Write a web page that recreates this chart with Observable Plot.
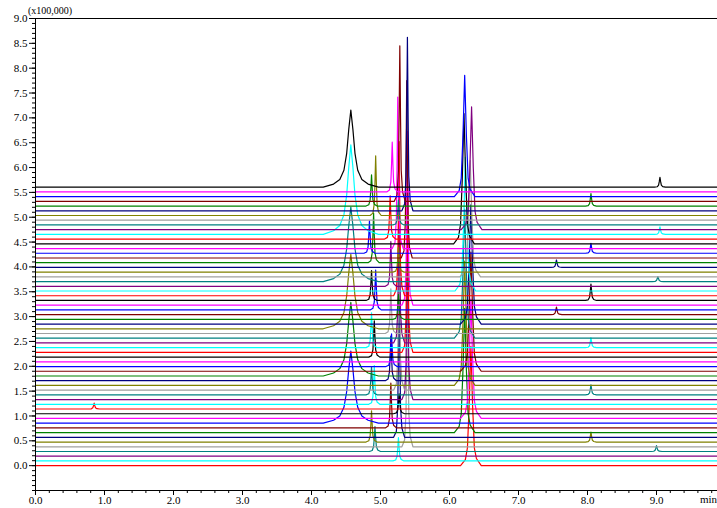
<!DOCTYPE html>
<html><head><meta charset="utf-8">
<script src="https://cdn.jsdelivr.net/npm/d3@7"></script>
<script src="https://cdn.jsdelivr.net/npm/@observablehq/plot@0.6"></script>
<style>body{margin:0;background:#fff}svg{display:block}</style>
</head><body><div id="chart"></div>
<script>
// ---- data (intensity in units of 100,000; time in min) ----
const traceCount = 60;
const traceStep = 0.095; // stacking offset between runs
const traceColors = ["#ff0000","#00ffff","#800080","#008080","#a0a0a0","#808000","#000080","#008000","#800000","#0000ff","#ff00ff","#000000"];

// peaks: [trace index, retention time, height]
const peaksA  = [[9,4.57,1.45],[19,4.57,1.48],[29,4.57,1.5],[39,4.57,1.5],[49,4.57,1.8],[59,4.57,1.55]];
const peaksB1 = [[5,4.87,0.63],[15,4.87,0.57],[25,4.87,0.7],[35,4.87,0.6],[45,4.84,0.65],[55,4.87,0.63]];
const peaksB2 = [[3,4.92,0.5],[13,4.91,0.78],[23,4.91,0.73],[33,4.93,0.8],[43,4.90,1.0],[53,4.93,1.2]];
const peaksC1 = [[8,5.15,0.9],[18,5.15,0.9],[28,5.15,0.9],[38,5.15,0.9],[48,5.14,0.87],[58,5.17,1.0]];
const peaksC2 = [[6,5.27,3.1],[16,5.27,3.1],[26,5.27,3.1],[36,5.27,3.1],[46,5.25,3.05],[56,5.28,3.13]];
const peaksC3 = [[4,5.39,3.5],[14,5.39,3.5],[24,5.39,3.5],[34,5.39,3.5],[44,5.38,3.57],[54,5.39,3.49]];
const peaksC4 = [[1,5.26,0.47],[11,5.27,0.4],[21,5.16,0.66],[31,5.26,0.5],[41,5.26,0.5],[51,5.26,0.5]];
const peaksD1 = [[7,6.22,2.5],[17,6.22,2.5],[27,6.22,2.6],[37,6.23,2.69],[47,6.21,2.62],[57,6.22,2.44]];
const peaksD2 = [[0,6.31,2.4],[10,6.31,2.4],[20,6.31,2.4],[30,6.31,2.4],[40,6.30,2.34],[50,6.32,2.47]];
const peaksE  = [[5,8.05,0.2],[15,8.05,0.2],[25,8.05,0.2],[35,8.05,0.33],[45,8.05,0.2],[55,8.05,0.25]];
const peaksF  = [[59,9.05,0.2],[49,9.05,0.15],[39,9.02,0.1],[3,9.0,0.12]];
const peaksMinor = [[42,7.55,0.15],[32,7.55,0.15],[12,0.85,0.12]];

const yMajorTicks = d3.range(0, 9.01, 0.5);
const yMinorTicks = d3.range(-0.5, 9.01, 0.1);
const xMajorTicks = d3.range(0, 9.01, 1);
const xMinorTicks = d3.range(0, 9.9, 0.2);

// ---- peak shape templates ----
const shapes = {
  broad:  {dx:[-0.4,-0.25,-0.16,-0.1,-0.06,-0.03,0,0.03,0.06,0.1,0.16,0.25,0.4], r:[0,0.04,0.1,0.22,0.44,0.75,1,0.75,0.44,0.22,0.1,0.04,0]},
  narrow: {dx:[-0.08,-0.04,-0.02,-0.01,0,0.01,0.02,0.04,0.08], r:[0,0.04,0.2,0.55,1,0.55,0.2,0.06,0]},
  medium: {dx:[-0.15,-0.08,-0.05,-0.025,0,0.025,0.05,0.08,0.15], r:[0,0.05,0.15,0.5,1,0.5,0.15,0.06,0]}
};
const groups = [
  [peaksA,"broad"],[peaksB1,"narrow"],[peaksB2,"narrow"],[peaksC1,"narrow"],[peaksC2,"narrow"],
  [peaksC3,"narrow"],[peaksC4,"narrow"],[peaksD1,"medium"],[peaksD2,"medium"],[peaksE,"narrow"],
  [peaksF,"narrow"],[peaksMinor,"narrow"]
];
const xMax = 9.884;
const perTrace = Array.from({length: traceCount}, () => []);
for (const [list, shape] of groups) for (const [i, t, h] of list) perTrace[i].push({t, h, s: shapes[shape]});
function shapeAt(s, d) {
  if (d <= s.dx[0] || d >= s.dx[s.dx.length - 1]) return 0;
  for (let k = 1; k < s.dx.length; k++) if (d <= s.dx[k]) {
    const f = (d - s.dx[k-1]) / (s.dx[k] - s.dx[k-1]);
    return s.r[k-1] + f * (s.r[k] - s.r[k-1]);
  }
  return 0;
}
const rows = [];
for (let i = 0; i < traceCount; i++) {
  const base = i * traceStep;
  const ts = new Set([0, xMax]);
  for (const p of perTrace[i]) for (const d of p.s.dx) ts.add(+(p.t + d).toFixed(4));
  for (const t of [...ts].sort((a, b) => a - b)) {
    let v = base;
    for (const p of perTrace[i]) v += p.h * shapeAt(p.s, t - p.t);
    rows.push({trace: i, t, v, color: traceColors[i % 12]});
  }
}

const serif = "'Liberation Serif', 'Times New Roman', serif";
const plot = Plot.plot({
  width: 717, height: 508,
  marginLeft: 35, marginRight: 0, marginTop: 18, marginBottom: 18,
  x: {domain: [0, xMax], label: null},
  y: {domain: [-0.5, 9.0], label: null},
  color: {type: "identity"},
  style: {fontFamily: serif, fontSize: "11px", background: "#fff", color: "#000"},
  marks: [
    Plot.line(rows, {x: "t", y: "v", z: "trace", stroke: "color", strokeWidth: 1.2}),
    Plot.axisY({ticks: yMinorTicks, tickSize: 3, text: null, label: null}),
    Plot.axisY({ticks: yMajorTicks, tickSize: 6, tickPadding: 2, tickFormat: d => d.toFixed(1), fontFamily: serif, fontSize: 11, label: null}),
    Plot.axisX({ticks: xMinorTicks, tickSize: 3, text: null, label: null}),
    Plot.axisX({ticks: xMajorTicks, tickSize: 5, tickPadding: 1, tickFormat: d => d.toFixed(1), fontFamily: serif, fontSize: 11, label: null}),
    Plot.ruleX([0], {stroke: "#000"}),
    Plot.ruleY([-0.5, 9.0], {stroke: "#000"})
  ]
});
const svg = d3.select(plot);
svg.append("text").attr("x", 28).attr("y", 14).attr("text-anchor", "start").attr("font-size", 10).attr("font-family", serif).text("(x100,000)");
svg.append("text").attr("x", 700).attr("y", 503).attr("text-anchor", "start").attr("font-size", 11).attr("font-family", serif).text("min");
document.getElementById("chart").append(plot);
</script>
</body></html>
